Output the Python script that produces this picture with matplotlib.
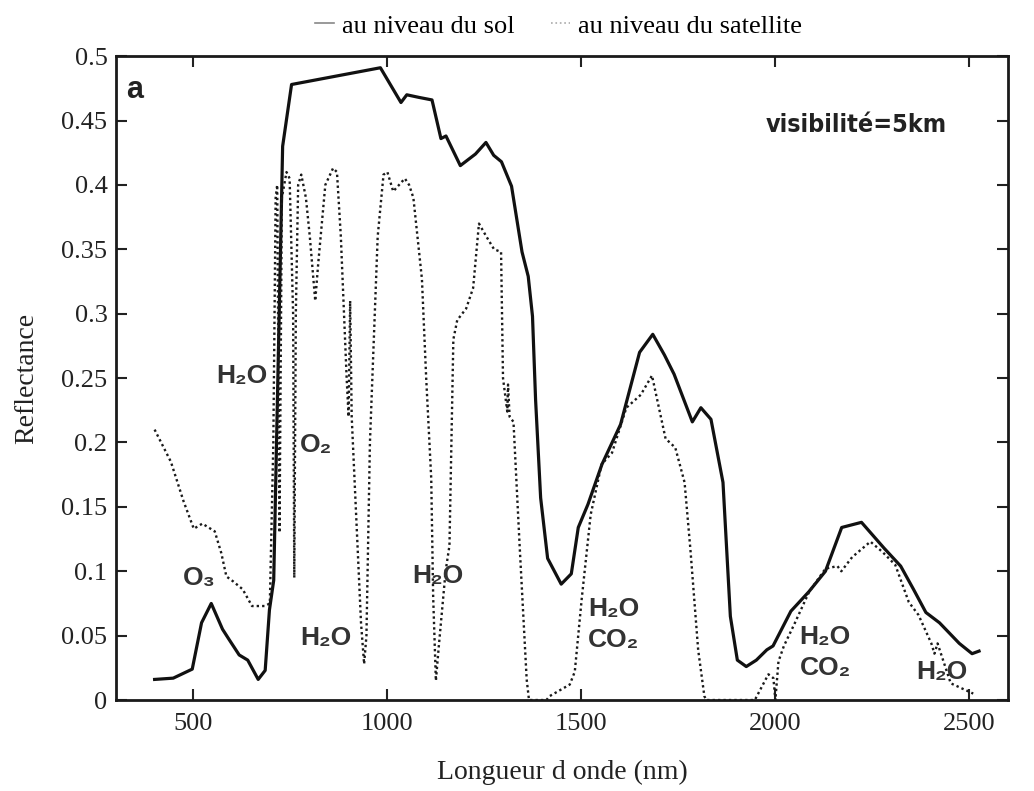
import matplotlib
matplotlib.use("Agg")
import matplotlib.pyplot as plt
from matplotlib.lines import Line2D

# ground level reflectance (solid)
sol_nm = [400, 448, 497, 521, 546, 575, 592, 618, 640, 667, 685, 696, 707, 730, 753,
          982, 1035, 1050, 1081, 1115, 1138, 1151, 1188, 1227, 1254, 1274, 1294, 1320,
          1347, 1363, 1374, 1382, 1395, 1413, 1448, 1474, 1492, 1517, 1553, 1601, 1650,
          1684, 1714, 1739, 1786, 1808, 1834, 1865, 1884, 1902, 1925, 1951, 1978, 1994,
          2040, 2086, 2129, 2171, 2222, 2280, 2323, 2356, 2388, 2423, 2474, 2507, 2525]
sol_r = [0.016, 0.017, 0.024, 0.060, 0.075, 0.055, 0.047, 0.035, 0.031, 0.016, 0.023, 0.070,
         0.093, 0.430, 0.478, 0.491, 0.464, 0.470, 0.468, 0.466, 0.436, 0.438, 0.415, 0.424,
         0.433, 0.423, 0.418, 0.399, 0.348, 0.329, 0.298, 0.233, 0.157, 0.110, 0.090, 0.098,
         0.134, 0.152, 0.183, 0.214, 0.270, 0.284, 0.268, 0.253, 0.216, 0.227, 0.218, 0.169,
         0.065, 0.031, 0.026, 0.031, 0.039, 0.042, 0.069, 0.084, 0.100, 0.134, 0.138, 0.118,
         0.104, 0.086, 0.068, 0.060, 0.044, 0.036, 0.038]

# satellite level reflectance (dotted)
sat_nm = [400, 442, 475, 501, 523, 555, 572, 585, 603, 627, 651, 684, 697, 706, 712, 716,
          722, 728, 740, 748, 757, 760, 764, 770, 778, 790, 800, 814, 822, 840, 860, 870,
          880, 895, 900, 904, 908, 920, 932, 940, 946, 955, 975, 990, 1000, 1015, 1030,
          1045, 1056, 1067, 1089, 1100, 1113, 1118, 1125, 1132, 1150, 1160, 1170, 1180,
          1203, 1221, 1236, 1255, 1275, 1293, 1298, 1309, 1311, 1315, 1325, 1341, 1359,
          1365, 1410, 1418, 1470, 1483, 1501, 1524, 1552, 1579, 1616, 1653, 1682, 1717,
          1742, 1766, 1781, 1801, 1817, 1822, 1947, 1982, 1995, 2000, 2008, 2022, 2049,
          2087, 2129, 2160, 2170, 2198, 2245, 2276, 2309, 2344, 2369, 2402, 2410, 2418,
          2452, 2510]
sat_r = [0.210, 0.185, 0.154, 0.133, 0.137, 0.131, 0.114, 0.096, 0.092, 0.086, 0.073, 0.073,
         0.075, 0.200, 0.390, 0.400, 0.130, 0.390, 0.410, 0.405, 0.300, 0.095, 0.300, 0.400,
         0.408, 0.390, 0.360, 0.310, 0.340, 0.400, 0.413, 0.410, 0.360, 0.250, 0.220, 0.310,
         0.220, 0.140, 0.060, 0.028, 0.050, 0.200, 0.360, 0.408, 0.410, 0.395, 0.400, 0.405,
         0.400, 0.390, 0.327, 0.250, 0.172, 0.080, 0.015, 0.040, 0.100, 0.120, 0.280, 0.295,
         0.304, 0.320, 0.370, 0.360, 0.350, 0.348, 0.250, 0.224, 0.245, 0.220, 0.216, 0.119,
         0.016, 0.000, 0.000, 0.003, 0.012, 0.022, 0.079, 0.144, 0.183, 0.192, 0.227, 0.237,
         0.252, 0.203, 0.196, 0.169, 0.117, 0.039, 0.003, 0.000, 0.000, 0.020, 0.017, 0.000,
         0.030, 0.042, 0.059, 0.084, 0.102, 0.104, 0.100, 0.111, 0.123, 0.115, 0.105, 0.076,
         0.066, 0.044, 0.036, 0.044, 0.013, 0.005]

# absorption labels: (text, nm, reflectance)
labels = [("H₂O", 625, 0.252), ("O₂", 815, 0.198), ("O₃", 515, 0.095),
          ("H₂O", 842, 0.048), ("H₂O", 1131, 0.096),
          ("H₂O", 1583, 0.071), ("CO₂", 1583, 0.047),
          ("H₂O", 2128, 0.049), ("CO₂", 2128, 0.025),
          ("H₂O", 2428, 0.022)]

serif = ['Liberation Serif', 'DejaVu Serif']
sans = ['Liberation Sans', 'DejaVu Sans']

fig = plt.figure(figsize=(10.34, 7.91), dpi=100)
ax = fig.add_axes([0.112, 0.115, 0.863, 0.814])

ax.plot(sol_nm, sol_r, color='#111111', lw=2.3, linestyle='-')
ax.plot(sat_nm, sat_r, color='#1a1a1a', lw=1.7, linestyle=(0, (1, 1.3)))

for txt, x, y in labels:
    ax.text(x, y, txt, ha='center', va='center', fontsize=19, fontweight='bold',
            color='#333333', family=sans)

ax.text(0.012, 0.97, "a", transform=ax.transAxes, ha='left', va='top',
        fontsize=22, fontweight='bold', family=sans, color='#222222')
ax.text(0.83, 0.893, "visibilité=5km", transform=ax.transAxes, ha='center', va='center',
        fontsize=18, fontweight='bold', fontstretch='condensed',
        family=['DejaVu Sans'], color='#222222')

ax.set_xlim(300, 2600)
ax.set_ylim(0, 0.5)
ax.set_xticks([500, 1000, 1500, 2000, 2500])
ax.set_yticks([0, 0.05, 0.1, 0.15, 0.2, 0.25, 0.3, 0.35, 0.4, 0.45, 0.5])
ax.set_yticklabels(['0', '0.05', '0.1', '0.15', '0.2', '0.25', '0.3', '0.35', '0.4',
                    '0.45', '0.5'])
ax.tick_params(direction='in', length=8, width=1.5, top=True, right=True,
               labelsize=19, colors='#222222')
ax.tick_params(axis='x', pad=9)
ax.tick_params(axis='y', pad=6)
for lab in ax.get_xticklabels() + ax.get_yticklabels():
    lab.set_family(serif)
for s in ax.spines.values():
    s.set_linewidth(2)
    s.set_color('#1a1a1a')

ax.set_xlabel("Longueur d onde (nm)", fontsize=20, family=serif, labelpad=18, color='#222222')
ax.set_ylabel("Reflectance", fontsize=20, family=serif, labelpad=16, color='#222222')

handles = [Line2D([], [], color='#888888', lw=1.2, linestyle='-'),
           Line2D([], [], color='#aaaaaa', lw=1.2, linestyle=':')]
fig.legend(handles, ["au niveau du sol", "au niveau du satellite"], loc='upper center',
           bbox_to_anchor=(0.54, 1.012), ncol=2, frameon=False, handlelength=0.7,
           handletextpad=0.3, columnspacing=1.4, prop={'family': serif, 'size': 19})

fig.savefig("out.png", dpi=100)
